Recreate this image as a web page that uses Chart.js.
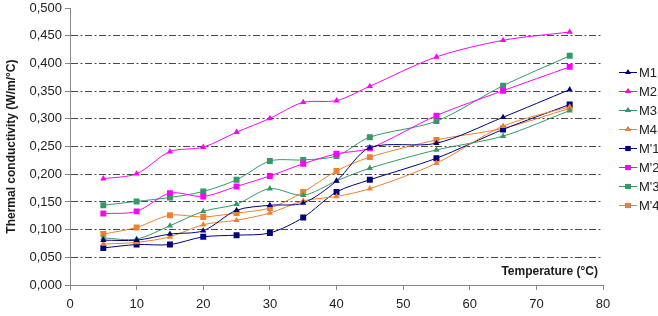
<!DOCTYPE html>
<html>
<head>
<meta charset="utf-8">
<script src="https://cdn.jsdelivr.net/npm/chart.js@4/dist/chart.umd.min.js"></script>
<style>
  html, body { margin: 0; padding: 0; background: #fff; }
  #wrap { width: 658px; height: 316px; position: relative; }
</style>
</head>
<body>
<div id="wrap"><canvas id="c" width="658" height="316"></canvas></div>
<script>
// ---- data ----
const temperatures = [5, 10, 15, 20, 25, 30, 35, 40, 45, 55, 65, 75];
const seriesNames = ['M1', 'M2', 'M3', 'M4', "M'1", "M'2", "M'3", "M'4"];
const m1  = [0.081, 0.081, 0.092, 0.098, 0.135, 0.144, 0.148, 0.188, 0.248, 0.256, 0.303, 0.353];
const m2  = [0.192, 0.201, 0.241, 0.249, 0.276, 0.301, 0.330, 0.333, 0.359, 0.412, 0.442, 0.457];
const m3  = [0.085, 0.083, 0.107, 0.133, 0.146, 0.174, 0.162, 0.188, 0.211, 0.244, 0.269, 0.315];
const m4  = [0.074, 0.077, 0.087, 0.109, 0.117, 0.130, 0.152, 0.160, 0.174, 0.220, 0.287, 0.322];
const mp1 = [0.067, 0.073, 0.073, 0.087, 0.090, 0.094, 0.122, 0.168, 0.190, 0.229, 0.281, 0.326];
const mp2 = [0.129, 0.133, 0.166, 0.160, 0.178, 0.197, 0.219, 0.237, 0.247, 0.306, 0.351, 0.394];
const mp3 = [0.144, 0.151, 0.158, 0.169, 0.190, 0.224, 0.226, 0.233, 0.267, 0.296, 0.360, 0.414];
const mp4 = [0.092, 0.104, 0.126, 0.123, 0.130, 0.139, 0.168, 0.206, 0.231, 0.262, 0.283, 0.319];
const xTickValues = [0, 10, 20, 30, 40, 50, 60, 70, 80];
const yTickValues = [0, 0.05, 0.1, 0.15, 0.2, 0.25, 0.3, 0.35, 0.4, 0.45, 0.5];
const xAxisTitle = 'Temperature (°C)';
const yAxisTitle = 'Thermal conductivity (W/m/°C)';

// ---- styles ----
const NAVY = '#000080', MAGENTA = '#FF00FF', GREEN = '#339966', ORANGE = '#EE8030';
const styles = [
  { color: NAVY,    shape: 'triangle' },
  { color: MAGENTA, shape: 'triangle' },
  { color: GREEN,   shape: 'triangle' },
  { color: ORANGE,  shape: 'triangle' },
  { color: NAVY,    shape: 'rect' },
  { color: MAGENTA, shape: 'rect' },
  { color: GREEN,   shape: 'rect' },
  { color: ORANGE,  shape: 'rect' }
];
const allSeries = [m1, m2, m3, m4, mp1, mp2, mp3, mp4];

const datasets = allSeries.map((vals, i) => ({
  label: seriesNames[i],
  data: temperatures.map((t, k) => ({ x: t, y: vals[k] })),
  borderColor: styles[i].color,
  backgroundColor: styles[i].color,
  borderWidth: 1,
  pointStyle: styles[i].shape,
  pointRadius: styles[i].shape === 'rect' ? 4.2 : 3.6,
  pointBorderWidth: 0,
  pointBackgroundColor: styles[i].color,
  tension: 0.3,
  fill: false
}));

const FONT = "'Liberation Sans', Arial, sans-serif";

// custom legend + x-axis title drawn inside plot area
const extras = {
  id: 'extras',
  afterDraw(chart) {
    const ctx = chart.ctx;
    const ca = chart.chartArea;
    ctx.save();
    // x axis title inside plot bottom-right
    ctx.font = 'bold 12px ' + FONT;
    ctx.fillStyle = '#1a1a1a';
    ctx.textAlign = 'right';
    ctx.textBaseline = 'middle';
    ctx.fillText(xAxisTitle, ca.right - 5, ca.bottom - 13);

    // legend
    const lx = 619, lw = 18, top = 72, step = 19;
    chart.data.datasets.forEach((ds, i) => {
      const y = top + i * step;
      ctx.strokeStyle = ds.borderColor;
      ctx.lineWidth = 1;
      ctx.beginPath();
      ctx.moveTo(lx, y + 0.5);
      ctx.lineTo(lx + lw, y + 0.5);
      ctx.stroke();
      Chart.helpers.drawPoint(ctx, {
        pointStyle: ds.pointStyle,
        radius: ds.pointStyle === 'rect' ? 3.6 : 3.2,
        rotation: 0,
        borderWidth: 0
      }, lx + lw / 2, y + 0.5);
      ctx.fillStyle = ds.borderColor;
      ctx.fill();
      ctx.font = '13px ' + FONT;
      ctx.fillStyle = '#222';
      ctx.textAlign = 'left';
      ctx.textBaseline = 'middle';
      ctx.fillText(ds.label, lx + lw + 2, y + 1);
    });
    ctx.restore();
  }
};

new Chart(document.getElementById('c'), {
  type: 'line',
  data: { datasets },
  plugins: [extras],
  options: {
    responsive: false,
    animation: false,
    devicePixelRatio: 1,
    layout: { padding: { left: 0, right: 55, top: 5, bottom: 0 } },
    plugins: {
      legend: { display: false },
      tooltip: { enabled: false }
    },
    scales: {
      x: {
        type: 'linear',
        min: 0, max: 80,
        afterBuildTicks(scale) { scale.ticks = xTickValues.map(v => ({ value: v })); },
        afterFit(scale) { scale.height = 31; },
        ticks: {
          color: '#222',
          font: { family: FONT, size: 13 },
          padding: 7,
          maxRotation: 0,
          callback: v => String(v)
        },
        grid: {
          drawOnChartArea: false,
          drawTicks: true,
          tickLength: 5,
          tickColor: '#888'
        },
        border: { display: true, color: '#888', width: 1 }
      },
      y: {
        type: 'linear',
        min: 0, max: 0.5,
        afterBuildTicks(scale) { scale.ticks = yTickValues.map(v => ({ value: v })); },
        afterFit(scale) { scale.width = 70; },
        ticks: {
          color: '#222',
          font: { family: FONT, size: 13, lineHeight: 0.8 },
          padding: 3,
          callback: v => Number(v).toFixed(3).replace('.', ',')
        },
        grid: {
          color: c => (c.tick && (Math.abs(c.tick.value) < 1e-9 || Math.abs(c.tick.value - 0.5) < 1e-9)) ? 'rgba(0,0,0,0)' : '#4a4a4a',
          lineWidth: 1,
          drawTicks: true,
          tickLength: 5,
          tickColor: '#888',
          tickBorderDash: []
        },
        border: { display: true, color: '#888', width: 1, dash: [7, 2.5, 2, 2.5] },
        title: {
          display: true,
          text: yAxisTitle,
          color: '#1a1a1a',
          font: { family: FONT, size: 12, weight: 'bold' },
          padding: { top: 4, bottom: 4 }
        }
      }
    }
  }
});
</script>
</body>
</html>
